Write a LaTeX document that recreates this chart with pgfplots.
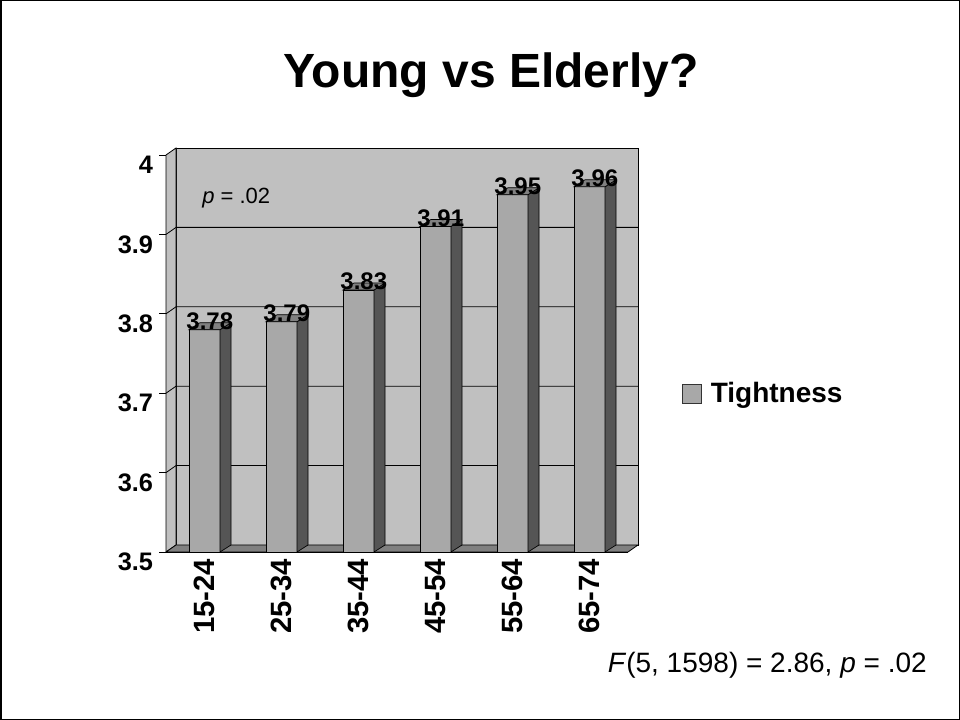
\documentclass[border=0pt]{standalone}
\usepackage{fontspec}
\setmainfont{Liberation Sans}
\usepackage{pgfplots}
\pgfplotsset{compat=1.18}
\definecolor{wall}{HTML}{C0C0C0}
\definecolor{floorc}{HTML}{808080}
\definecolor{barfront}{HTML}{A8A8A8}
\definecolor{barside}{HTML}{555555}
\definecolor{bartop}{HTML}{808080}
% depth offsets of the pseudo-3D chart
\def\wdx{7.5pt}\def\wdy{5.25pt}
\def\bdx{8.25pt}\def\bdy{5.25pt}
\def\bhw{11.625pt}

\begin{document}
\begin{tikzpicture}
\useasboundingbox (0,0) rectangle (720pt,540pt);
\draw[black, line width=1pt] (0.5pt,0.5pt) rectangle (719.5pt,539.5pt);
\draw[black, line width=1.5pt] (0.75pt,0pt) -- (0.75pt,540pt);

\node[anchor=base, font=\bfseries\fontsize{36}{43}\selectfont] at (368.25pt,474pt) {Young vs Elderly?};

\begin{axis}[
  at={(124.5pt,126pt)}, anchor=south west,
  scale only axis, width=346.5pt, height=297.75pt,
  xmin=-0.5, xmax=5.5, ymin=3.5, ymax=4,
  axis lines*=left,
  axis line style={black, line width=0.6pt},
  tick align=outside, major tick length=5pt,
  tick style={black, line width=0.6pt},
  /pgf/number format/assume math mode=true,
  ytick={3.5,3.6,3.7,3.8,3.9,4},
  yticklabels={3.5,3.6,3.7,3.8,3.9,4},
  yticklabel style={font=\bfseries\fontsize{19}{23}\selectfont, yshift=-7.5pt, inner sep=0pt, xshift=-4.5pt},
  xtick={0,...,5},
  xticklabels={15-24,25-34,35-44,45-54,55-64,65-74},
  major x tick style={draw=none},
  xticklabel style={font=\bfseries\fontsize{22}{26}\selectfont, rotate=90, anchor=east, inner sep=0pt},
  extra x ticks={-0.5,0.5,1.5,2.5,3.5,4.5,5.5},
  extra x tick labels={},
  extra x tick style={major tick length=5pt, tick style={black, line width=0.6pt}},
  legend style={at={(1.117,0.399)}, anchor=west, draw=none, fill=none, inner sep=0pt,
    font=\bfseries\fontsize{21}{25}\selectfont,
    /tikz/every odd column/.append style={column sep=4.5pt}},
  legend cell align=left,
  clip=false,
]
% walls and floor
\fill[wall, draw=black, line width=0.6pt] ([shift={(\wdx,\wdy)}]axis cs:-0.5,3.5) rectangle ([shift={(\wdx,\wdy)}]axis cs:5.5,4);
\fill[wall, draw=black, line width=0.6pt] (axis cs:-0.5,3.5) -- ([shift={(\wdx,\wdy)}]axis cs:-0.5,3.5)
  -- ([shift={(\wdx,\wdy)}]axis cs:-0.5,4) -- (axis cs:-0.5,4) -- cycle;
\fill[floorc, draw=black, line width=0.6pt] (axis cs:-0.5,3.5) -- (axis cs:5.5,3.5)
  -- ([shift={(\wdx,\wdy)}]axis cs:5.5,3.5) -- ([shift={(\wdx,\wdy)}]axis cs:-0.5,3.5) -- cycle;
\pgfplotsinvokeforeach{3.6,3.7,3.8,3.9}{
  \draw[black, line width=0.6pt] (axis cs:-0.5,#1) -- ([shift={(\wdx,\wdy)}]axis cs:-0.5,#1)
    -- ([shift={(\wdx,\wdy)}]axis cs:5.5,#1);
}

% side and top faces of the columns
\addplot[
  scatter, only marks, forget plot,
  mark=*, mark size=0.01pt, mark options={draw=none, fill=none},
  visualization depends on={y \as \rawy},
  scatter/@pre marker code/.code={%
    \pgfmathsetmacro\barH{(\rawy-3.5)*595.5}%
    \fill[barside, draw=black, line width=0.5pt] (\bhw,0pt) -- ++(\bdx,\bdy) -- ++(0pt,-\barH pt) -- (\bhw,-\barH pt) -- cycle;
    \fill[bartop, draw=black, line width=0.5pt] (-\bhw,0pt) -- (\bhw,0pt) -- ++(\bdx,\bdy) -- ++(-23.25pt,0pt) -- cycle;
  },
  scatter/@post marker code/.code={},
] coordinates {(0,3.78) (1,3.79) (2,3.83) (3,3.91) (4,3.95) (5,3.96)};

% front faces
\addplot[
  ybar, bar width=23.25pt, bar shift=0pt,
  fill=barfront, draw=black, line width=0.5pt,
  nodes near coords={\pgfmathprintnumber[fixed,fixed zerofill,precision=2,assume math mode=true]{\pgfplotspointmeta}},
  every node near coord/.append style={font=\bfseries\fontsize{18}{21}\selectfont, anchor=base, inner sep=0pt, xshift=4pt, text=black},
  legend image code/.code={\draw[fill=barfront, draw=black!80, line width=0.6pt] (0pt,-7.1pt) rectangle (14.25pt,7.1pt);},
] coordinates {(0,3.78) (1,3.79) (2,3.83) (3,3.91) (4,3.95) (5,3.96)};
\addlegendentry{Tightness}

\node[anchor=base west, font=\fontsize{16.5}{19}\selectfont, inner sep=0pt] at ([shift={(\wdx,\wdy)}]axis cs:-0.5,3.5) [xshift=19.5pt, yshift=256pt] {\textit{p} = .02};
\end{axis}

\node[anchor=base east, font=\fontsize{21}{25}\selectfont, inner sep=0pt] at (695.25pt,35.25pt) {\textit{F}(5, 1598) = 2.86, \textit{p} = .02};
\end{tikzpicture}
\end{document}
